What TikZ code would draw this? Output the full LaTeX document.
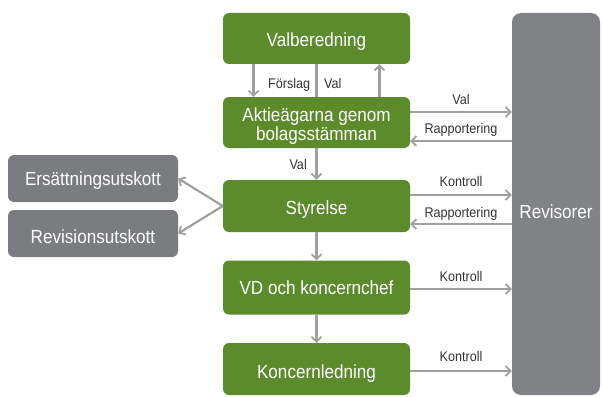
\documentclass[tikz,border=0pt]{standalone}
\usepackage{fontspec}
\setmainfont{Liberation Sans}
\newfontfamily\boxfont[FakeStretch=0.9]{Liberation Sans}
\usetikzlibrary{arrows.meta}
\definecolor{boxgreen}{HTML}{5C8B2C}
\definecolor{boxgray}{HTML}{7B7C7F}
\definecolor{revgray}{HTML}{808285}
\definecolor{arrgray}{HTML}{A0A0A2}
\definecolor{labtext}{HTML}{333333}
\tikzset{
  greenbox/.style={fill=boxgreen, rounded corners=6pt, text=white, font=\boxfont\fontsize{19}{18.3}\selectfont, minimum width=187pt, inner sep=0pt, text depth=0pt},
  graybox/.style={fill=boxgray, rounded corners=6pt, text=white, font=\boxfont\fontsize{19}{18.3}\selectfont, minimum width=170pt, minimum height=47pt, inner sep=0pt, text depth=0pt},
  conn/.style={draw=arrgray, line width=2.2pt, -{Straight Barb[length=5pt,width=10pt,line width=1.8pt]}},
  plainline/.style={draw=arrgray, line width=2.2pt},
  lab/.style={text=labtext, font=\boxfont\fontsize{14}{15}\selectfont, inner sep=1pt, text depth=0pt}
}
\begin{document}
\begin{tikzpicture}[x=1pt,y=-1pt]
\useasboundingbox (0,0) rectangle (602,396);
% boxes
\node[greenbox, text height=15.6pt, minimum height=51pt] (valb) at (316.5,38.5) {Valberedning};
\node[greenbox, minimum height=51pt] (aktie) at (316.5,122.5) {\raisebox{0.8pt}[0pt][0pt]{\parbox[t]{187pt}{\centering Aktieägarna genom\\bolagsstämman}}};
\node[greenbox, text height=17.6pt, minimum height=52pt] (styr) at (316.5,206) {Styrelse};
\node[greenbox, text height=14.6pt, minimum height=54pt] (vd) at (316.5,287.5) {VD och koncernchef};
\node[greenbox, text height=19pt, minimum height=52pt] (konc) at (316.5,369) {Koncernledning};
\node[graybox, text height=13.8pt] (ers) at (93,178.5) {Ersättningsutskott};
\node[graybox, text height=19pt] (revu) at (93,233.5) {Revisionsutskott};
\node[fill=revgray, rounded corners=9pt, minimum width=88pt, minimum height=382pt, inner sep=0pt, text=white, font=\boxfont\fontsize{19}{18.3}\selectfont, text height=28.2pt, text depth=0pt] (rev) at (556,204) {Revisorer};
% Valberedning <-> Aktie
\draw[conn] ([xshift=-63pt]valb.south) -- ([xshift=-63pt]aktie.north);
\draw[plainline] (valb.south) -- (aktie.north);
\draw[conn] ([xshift=63pt]aktie.north) -- ([xshift=63pt]valb.south);
\node[lab, anchor=base west] (forsl) at (267,88.3) {Förslag};
\node[lab, anchor=base west] (val1) at (323,88.3) {Val};
% vertical chain
\draw[conn] (aktie.south) -- (styr.north);
\node[lab, anchor=base east] (val2) at (308,169.3) {Val};
\draw[conn] (styr.south) -- (vd.north);
\draw[conn] (vd.south) -- (konc.north);
% to committees
\draw[conn] (styr.west) -- (ers.east);
\draw[conn] (styr.west) -- (revu.east);
% to Revisorer
\coordinate (r1) at (rev.west |- 0,112);
\coordinate (r2) at (rev.west |- 0,141);
\coordinate (r3) at (rev.west |- 0,195);
\coordinate (r4) at (rev.west |- 0,224);
\coordinate (r5) at (rev.west |- 0,289);
\coordinate (r6) at (rev.west |- 0,371);
\draw[conn] (aktie.east |- r1) -- (r1) node[lab, midway, above=5pt] (l1) {Val};
\draw[conn] (r2) -- (aktie.east |- r2) node[lab, midway, above=5pt] (l2) {Rapportering};
\draw[conn] (styr.east |- r3) -- (r3) node[lab, midway, above=6pt] (l3) {Kontroll};
\draw[conn] (r4) -- (styr.east |- r4) node[lab, midway, above=4.7pt] (l4) {Rapportering};
\draw[conn] (vd.east |- r5) -- (r5) node[lab, midway, above=5.7pt] (l5) {Kontroll};
\draw[conn] (konc.east |- r6) -- (r6) node[lab, midway, above=7.7pt] (l6) {Kontroll};
\end{tikzpicture}
\end{document}
